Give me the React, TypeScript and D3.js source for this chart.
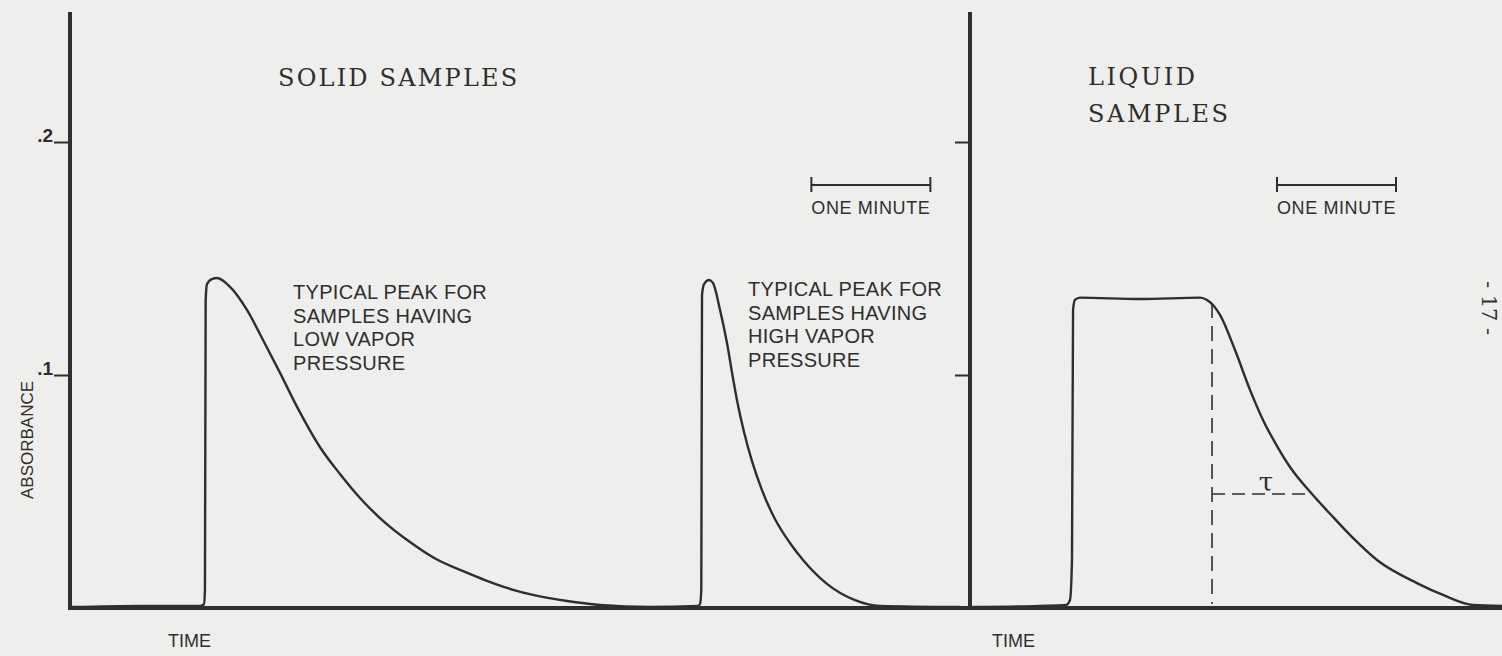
import React, { useEffect, useRef } from 'react';
import * as d3 from 'd3';

// time in minutes from each panel's y axis, absorbance in AU
const solidTrace: [number, number][] = [
  [0.017, 0.0004], [0.588, 0.0009], [1.092, 0.0009], [1.126, 0.0017], [1.134, 0.0077],
  [1.14, 0.132], [1.151, 0.139], [1.193, 0.1412], [1.235, 0.1416], [1.345, 0.1378],
  [1.487, 0.1279], [1.622, 0.115], [1.765, 0.1009], [1.908, 0.0863], [2.101, 0.069],
  [2.269, 0.0575], [2.437, 0.0472], [2.605, 0.0386], [2.857, 0.0283], [3.076, 0.0210],
  [3.319, 0.0155], [3.487, 0.0120], [3.731, 0.0077], [3.891, 0.0056], [4.176, 0.0030],
  [4.454, 0.0013], [4.874, 0.0004], [5.277, 0.0009], [5.294, 0.0017], [5.305, 0.0077],
  [5.311, 0.1343], [5.328, 0.139], [5.37, 0.1408], [5.403, 0.1395], [5.462, 0.128],
  [5.521, 0.1137], [5.571, 0.0987], [5.613, 0.0871], [5.664, 0.0755], [5.731, 0.0630],
  [5.815, 0.0506], [5.924, 0.0382], [6.050, 0.0279], [6.160, 0.0206], [6.353, 0.0107],
  [6.597, 0.0034], [6.807, 0.0009], [7.479, 0.0004],
];

const liquidTrace: [number, number][] = [
  [0.025, 0.0004], [0.588, 0.0009], [0.807, 0.0013], [0.84, 0.0034], [0.857, 0.0206],
  [0.866, 0.1279], [0.882, 0.1322], [0.924, 0.1332], [1.429, 0.1326], [1.933, 0.1332],
  [1.992, 0.1322], [2.101, 0.1258], [2.227, 0.1107], [2.353, 0.0936], [2.462, 0.0807],
  [2.580, 0.0695], [2.689, 0.0605], [2.874, 0.0489], [3.050, 0.0391], [3.235, 0.0292],
  [3.420, 0.0206], [3.756, 0.0107], [3.975, 0.0056], [4.227, 0.0013], [4.471, 0.0009],
];

// tau construction: end of plateau and 1/e level
const tauStart = 2.034;
const tauEnd = 2.874;
const plateauLevel = 0.1326;
const tauLevel = 0.0489;

const yTicks = [0.1, 0.2];
const axisTop = 0.2558;
const annotSolid = ['TYPICAL PEAK FOR', 'SAMPLES HAVING', 'LOW VAPOR', 'PRESSURE'];
const annotHigh = ['TYPICAL PEAK FOR', 'SAMPLES HAVING', 'HIGH VAPOR', 'PRESSURE'];

const W = 1502;
const H = 656;
const ink = '#2e2e2e';

const App: React.FC = () => {
  const svgRef = useRef<SVGSVGElement | null>(null);

  useEffect(() => {
    if (!svgRef.current) return;
    const svg = d3.select(svgRef.current);
    svg.selectAll('*').remove();

    const y = d3.scaleLinear().domain([0, 0.2]).range([608, 142]);
    const xL = d3.scaleLinear().domain([0, 1]).range([70, 189]); // one minute = 119px
    const xR = d3.scaleLinear().domain([0, 1]).range([970, 1089]);

    svg.append('rect').attr('width', W).attr('height', H).attr('fill', '#eeeeec');

    const sans = 'Liberation Sans, Arial, sans-serif';
    const serif = 'DejaVu Serif, serif';

    // traces
    const mkLine = (x: d3.ScaleLinear<number, number>) =>
      d3.line<[number, number]>().x(d => x(d[0])).y(d => y(d[1])).curve(d3.curveMonotoneX);

    svg.append('path').attr('d', mkLine(xL)(solidTrace)).attr('fill', 'none')
      .attr('stroke', ink).attr('stroke-width', 2.4).attr('stroke-linejoin', 'round');
    svg.append('path').attr('d', mkLine(xR)(liquidTrace)).attr('fill', 'none')
      .attr('stroke', ink).attr('stroke-width', 2.4).attr('stroke-linejoin', 'round');

    // axes
    const leftAxis = svg.append('g').attr('transform', `translate(${xL(0)},0)`)
      .call(d3.axisLeft(y).tickValues(yTicks).tickSize(16)
        .tickFormat(d => String(d).replace(/^0/, '')));
    leftAxis.select('.domain').remove();
    leftAxis.selectAll('line').attr('stroke', ink).attr('stroke-width', 2);
    leftAxis.selectAll('text').attr('fill', ink).attr('font-family', sans)
      .attr('font-size', 19).attr('font-weight', 'bold').attr('dy', '-0.05em').attr('x', -17);

    const rightAxis = svg.append('g').attr('transform', `translate(${xR(0)},0)`)
      .call(d3.axisLeft(y).tickValues(yTicks).tickSize(15).tickFormat(() => ''));
    rightAxis.select('.domain').remove();
    rightAxis.selectAll('line').attr('stroke', ink).attr('stroke-width', 2);

    [xL(0), xR(0)].forEach(x0 => {
      svg.append('line').attr('x1', x0).attr('x2', x0).attr('y1', y(axisTop)).attr('y2', y(0) + 2)
        .attr('stroke', ink).attr('stroke-width', 4);
    });
    svg.append('line').attr('x1', xL(0) - 2).attr('x2', W).attr('y1', y(0)).attr('y2', y(0))
      .attr('stroke', ink).attr('stroke-width', 4);

    // tau construction
    svg.append('line').attr('x1', xR(tauStart)).attr('x2', xR(tauStart))
      .attr('y1', y(plateauLevel) + 4).attr('y2', y(0) - 4)
      .attr('stroke', ink).attr('stroke-width', 1.6).attr('stroke-dasharray', '15 8');
    svg.append('line').attr('x1', xR(tauStart)).attr('x2', xR(tauEnd))
      .attr('y1', y(tauLevel)).attr('y2', y(tauLevel))
      .attr('stroke', ink).attr('stroke-width', 1.6).attr('stroke-dasharray', '13 7');
    svg.append('text').attr('x', (xR(tauStart) + xR(tauEnd)) / 2 + 4).attr('y', y(tauLevel) - 3)
      .attr('text-anchor', 'middle').attr('font-family', serif).attr('font-size', 26)
      .attr('fill', ink).text('τ');

    // one-minute scale bars
    [xL(6.23), xR(2.58)].forEach(x0 => {
      const x1 = x0 + (xL(1) - xL(0));
      const g = svg.append('g').attr('stroke', ink).attr('stroke-width', 2);
      g.append('line').attr('x1', x0).attr('x2', x1).attr('y1', 185).attr('y2', 185);
      g.append('line').attr('x1', x0).attr('x2', x0).attr('y1', 177).attr('y2', 192);
      g.append('line').attr('x1', x1).attr('x2', x1).attr('y1', 177).attr('y2', 192);
      svg.append('text').attr('x', x0).attr('y', 214).attr('font-family', sans)
        .attr('font-size', 18).attr('letter-spacing', 0.6).attr('fill', ink).text('ONE MINUTE');
    });

    // panel titles
    svg.append('text').attr('x', 278).attr('y', 86).attr('font-family', serif).attr('font-size', 24)
      .attr('letter-spacing', 2.2).attr('fill', ink).text('SOLID SAMPLES');
    svg.append('text').attr('x', 1088).attr('y', 85).attr('font-family', serif).attr('font-size', 24)
      .attr('letter-spacing', 2.6).attr('fill', ink).text('LIQUID');
    svg.append('text').attr('x', 1088).attr('y', 122).attr('font-family', serif).attr('font-size', 24)
      .attr('letter-spacing', 2.6).attr('fill', ink).text('SAMPLES');

    // peak annotations
    const annot = (lines: string[], x0: number, y0: number) => {
      const t = svg.append('text').attr('font-family', sans).attr('font-size', 20)
        .attr('letter-spacing', 0.3).attr('fill', ink);
      lines.forEach((s, i) => t.append('tspan').attr('x', x0).attr('y', y0 + i * 23.5).text(s));
    };
    annot(annotSolid, 293, 299);
    annot(annotHigh, 748, 296);

    // axis titles
    svg.append('text').attr('transform', `translate(33,440) rotate(-90)`).attr('text-anchor', 'middle')
      .attr('font-family', sans).attr('font-size', 17).attr('fill', ink).text('ABSORBANCE');
    svg.append('text').attr('x', 168).attr('y', 647).attr('font-family', sans).attr('font-size', 18)
      .attr('fill', ink).text('TIME');
    svg.append('text').attr('x', 992).attr('y', 647).attr('font-family', sans).attr('font-size', 18)
      .attr('fill', ink).text('TIME');

    // page number
    svg.append('text').attr('transform', `translate(1482,308) rotate(90)`).attr('text-anchor', 'middle')
      .attr('font-family', serif).attr('font-size', 21).attr('fill', ink).text('- 17 -');
  }, []);

  return (
    <div style={{ position: 'absolute', left: 0, top: 0 }}>
      <svg ref={svgRef} width={W} height={H}></svg>
    </div>
  );
};

export default App;
